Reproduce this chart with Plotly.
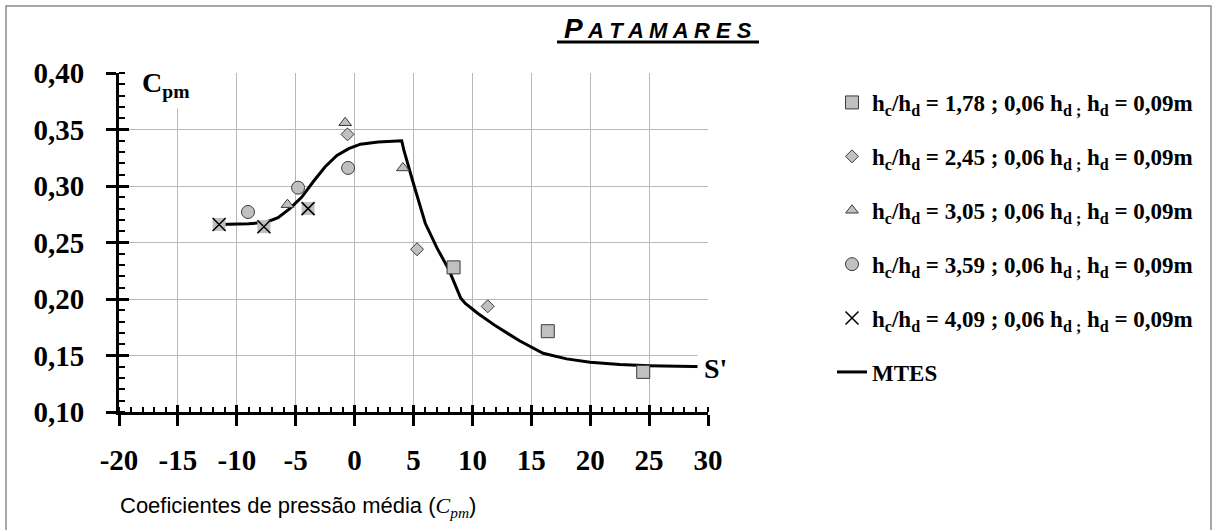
import plotly.graph_objects as go

# ---------------- data ----------------
x_ticks = [-20, -15, -10, -5, 0, 5, 10, 15, 20, 25, 30]
x_tick_labels = ["-20", "-15", "-10", "-5", "0", "5", "10", "15", "20", "25", "30"]
y_ticks = [0.10, 0.15, 0.20, 0.25, 0.30, 0.35, 0.40]
y_tick_labels = ["0,10", "0,15", "0,20", "0,25", "0,30", "0,35", "0,40"]

name_178 = "h<sub>c</sub>/h<sub>d</sub> = 1,78 ; 0,06 h<sub>d ;</sub> h<sub>d</sub> = 0,09m"
name_245 = "h<sub>c</sub>/h<sub>d</sub> = 2,45 ; 0,06 h<sub>d ;</sub> h<sub>d</sub> = 0,09m"
name_305 = "h<sub>c</sub>/h<sub>d</sub> = 3,05 ; 0,06 h<sub>d ;</sub> h<sub>d</sub> = 0,09m"
name_359 = "h<sub>c</sub>/h<sub>d</sub> = 3,59 ; 0,06 h<sub>d ;</sub> h<sub>d</sub> = 0,09m"
name_409 = "h<sub>c</sub>/h<sub>d</sub> = 4,09 ; 0,06 h<sub>d ;</sub> h<sub>d</sub> = 0,09m"
name_mtes = "MTES"

sq_x = [8.4, 16.4, 24.5]
sq_y = [0.228, 0.1715, 0.1355]
di_x = [-0.6, 5.3, 11.3]
di_y = [0.3457, 0.244, 0.1935]
tr_x = [-0.8, 4.1, -5.7]
tr_y = [0.356, 0.316, 0.2835]
ci_x = [-9.05, -4.8, -0.55]
ci_y = [0.277, 0.2985, 0.316]
xm_x = [-11.5, -7.7, -3.95]
xm_y = [0.266, 0.264, 0.280]

mtes_x = [-11.5, -9, -7.5, -6.5, -5.5, -4.5, -3.5, -2.5, -1.5, -0.5, 0.5, 2, 4,
          4.2, 5, 6, 7, 8, 9, 9.4, 10.5, 12, 14, 16, 18, 20, 22.5, 25, 30]
mtes_y = [0.266, 0.2665, 0.268, 0.272, 0.280, 0.290, 0.304, 0.317, 0.327, 0.333,
          0.337, 0.339, 0.340, 0.331, 0.302, 0.267, 0.245, 0.226, 0.201, 0.196,
          0.187, 0.176, 0.163, 0.152, 0.147, 0.144, 0.142, 0.141, 0.140]

# ---------------- geometry helpers (pixel -> paper) ----------------
W, H = 1217, 530
L, R, T, B = 119, 509, 73, 118
PW, PH = W - L - R, H - T - B


def px(x):
    return (x - L) / PW


def py(y):
    return (H - B - y) / PH


FILL = "#c0c0c0"
EDGE = "#3a3a3a"
SERIF = "Liberation Serif"

fig = go.Figure()

fig.add_trace(go.Scatter(
    x=mtes_x, y=mtes_y, mode="lines", name=name_mtes,
    line=dict(color="black", width=3), legendgroup="g6", legendrank=6))

fig.add_trace(go.Scatter(
    x=sq_x, y=sq_y, mode="markers", name=name_178, legendgroup="g1", legendrank=1,
    marker=dict(symbol="square", size=13, color=FILL, line=dict(color=EDGE, width=1))))
fig.add_trace(go.Scatter(
    x=di_x, y=di_y, mode="markers", name=name_245, legendgroup="g2", legendrank=2,
    marker=dict(symbol="diamond", size=10, color=FILL, line=dict(color=EDGE, width=1))))
fig.add_trace(go.Scatter(
    x=tr_x, y=tr_y, mode="markers", name=name_305, legendgroup="g3", legendrank=3,
    marker=dict(symbol="triangle-up", size=11, color=FILL, line=dict(color=EDGE, width=1))))
fig.add_trace(go.Scatter(
    x=ci_x, y=ci_y, mode="markers", name=name_359, legendgroup="g4", legendrank=4,
    marker=dict(symbol="circle", size=13, color=FILL, line=dict(color=EDGE, width=1))))
fig.add_trace(go.Scatter(
    x=xm_x, y=xm_y, mode="markers", name=name_409, legendgroup="g5", legendrank=5,
    showlegend=False,
    marker=dict(symbol="square", size=13, color=FILL, line=dict(width=0))))
fig.add_trace(go.Scatter(
    x=xm_x, y=xm_y, mode="markers", name=name_409, legendgroup="g5", legendrank=5,
    marker=dict(symbol="x-thin", size=13, color="black", line=dict(color="black", width=1.5))))

# invisible trace to realise the overlay axes (inner half of crossing ticks)
fig.add_trace(go.Scatter(x=[None], y=[None], xaxis="x2", yaxis="y2",
                         showlegend=False, hoverinfo="skip"))

tickfont = dict(family=SERIF, size=29, color="black", weight="bold")

fig.update_layout(
    width=W, height=H,
    margin=dict(l=L, r=R, t=T, b=B, pad=0),
    paper_bgcolor="white", plot_bgcolor="white",
    separators=",.",
    xaxis=dict(
        range=[-20, 30], tickvals=x_ticks, ticktext=x_tick_labels,
        showgrid=True, gridcolor="#b8b8b8", gridwidth=1, zeroline=False,
        showline=True, linecolor="black", linewidth=3,
        ticks="outside", ticklen=11, tickwidth=3, tickcolor="black",
        minor=dict(dtick=1, ticks="inside", ticklen=5, tickwidth=2,
                   tickcolor="black", showgrid=False),
        tickfont=tickfont, ticklabelstandoff=9),
    yaxis=dict(
        range=[0.10, 0.40], tickvals=y_ticks, ticktext=y_tick_labels,
        showgrid=True, gridcolor="#b8b8b8", gridwidth=1, zeroline=False,
        showline=True, linecolor="black", linewidth=3,
        ticks="outside", ticklen=10, tickwidth=3, tickcolor="black",
        minor=dict(dtick=0.01, ticks="inside", ticklen=6, tickwidth=2,
                   tickcolor="black", showgrid=False),
        tickfont=tickfont, ticklabelstandoff=16),
    xaxis2=dict(
        range=[-20, 30], overlaying="x", anchor="y2", side="bottom",
        tickvals=x_ticks, showticklabels=False, showgrid=False, zeroline=False,
        showline=False, ticks="inside", ticklen=7, tickwidth=3, tickcolor="black"),
    yaxis2=dict(
        range=[0.10, 0.40], overlaying="y", anchor="x2", side="left",
        tickvals=y_ticks, showticklabels=False, showgrid=False, zeroline=False,
        showline=False, ticks="inside", ticklen=10, tickwidth=3, tickcolor="black"),
    legend=dict(
        x=px(832), y=py(81), xanchor="left", yanchor="top",
        font=dict(family=SERIF, size=23, color="black", weight="bold"),
        tracegroupgap=21, traceorder="grouped", bgcolor="rgba(0,0,0,0)",
        borderwidth=0),
    showlegend=True,
)

annotations = [
    # title
    dict(x=px(658), y=py(29), xref="paper", yref="paper", showarrow=False,
         xanchor="center", yanchor="middle",
         text="<b><i>P<span style='font-size:22px'> A T A M A R E S</span></i></b>",
         font=dict(family="Liberation Sans", size=28, color="black")),
    # C_pm label at top of y axis
    dict(x=px(165), y=py(84), xref="paper", yref="paper", showarrow=False,
         xanchor="center", yanchor="middle", bgcolor="white", borderpad=6,
         text="<b>C<sub>pm</sub></b>",
         font=dict(family=SERIF, size=28, color="black")),
    # S' label at right end
    dict(x=px(715), y=py(368), xref="paper", yref="paper", showarrow=False,
         xanchor="center", yanchor="middle", bgcolor="white", borderpad=6,
         text="<b>S'</b>",
         font=dict(family=SERIF, size=28, color="black")),
    # x axis caption
    dict(x=px(118), y=py(507), xref="paper", yref="paper", showarrow=False,
         xanchor="left", yanchor="middle",
         text="Coeficientes de pressão média (<span style='font-family:Liberation Serif'><i>C</i><sub><i>pm</i></sub></span>)",
         font=dict(family="Liberation Sans", size=22, color="black")),
]
fig.update_layout(annotations=annotations)

shapes = [
    # title underline
    dict(type="line", xref="paper", yref="paper", x0=px(557), x1=px(759),
         y0=py(42), y1=py(42), line=dict(color="black", width=3)),
    # outer frame
    dict(type="rect", xref="paper", yref="paper", x0=px(6), x1=px(1211),
         y0=py(540), y1=py(6), line=dict(color="#8a8a8a", width=1.5),
         fillcolor="rgba(0,0,0,0)", layer="below"),
]
fig.update_layout(shapes=shapes)

fig.write_html("out.html")
